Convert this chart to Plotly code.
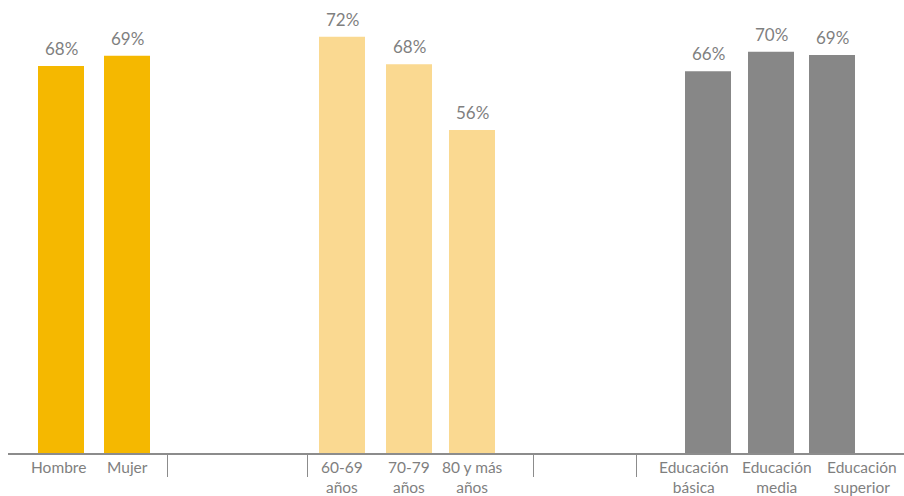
import plotly.graph_objects as go

# Data
categories = ["Hombre", "Mujer", "60-69<br>años", "70-79<br>años", "80 y más<br>años",
              "Educación<br>básica", "Educación<br>media", "Educación<br>superior"]
values = [67.2, 69.0, 72.3, 67.5, 56.1, 66.3, 69.7, 69.1]
value_labels = ["68%", "69%", "72%", "68%", "56%", "66%", "70%", "69%"]
groups = ["sexo", "sexo", "edad", "edad", "edad", "educ", "educ", "educ"]

# Layout (horizontal positions in axis units)
positions = [61, 127, 342, 409, 472, 708, 771, 832]
label_positions = [58, 127, 342, 409, 472, 694, 777, 862]
separators = [167, 307, 533, 636]
group_colors = {"sexo": "#F5B800", "edad": "#FAD991", "educ": "#878787"}
text_color = "#7F7F7F"
font_family = "Lato"

fig = go.Figure()
fig.add_trace(go.Bar(
    x=positions, y=values, width=46,
    marker=dict(color=[group_colors[g] for g in groups], line=dict(width=0)),
    hoverinfo="skip",
))

annotations = []
for x, v, t in zip(positions, values, value_labels):
    annotations.append(dict(x=x, y=v, xref="x", yref="y", text=t,
                            showarrow=False, yanchor="bottom", yshift=5,
                            font=dict(size=17, color=text_color, family=font_family)))
for x, c in zip(label_positions, categories):
    annotations.append(dict(x=x, y=0, xref="x", yref="paper", text=c,
                            showarrow=False, yanchor="top", yshift=-3,
                            font=dict(size=15.5, color=text_color, family=font_family)))

fig.update_layout(
    width=904, height=496,
    margin=dict(l=8, r=0, t=20, b=43),
    paper_bgcolor="white", plot_bgcolor="white",
    showlegend=False,
    annotations=annotations,
    xaxis=dict(range=[8, 904], showgrid=False, zeroline=False,
               showline=True, linecolor="#8C8C8C", linewidth=1.5,
               tickmode="array", tickvals=separators, ticks="outside",
               ticklen=22, tickwidth=1.2, tickcolor="#8C8C8C",
               showticklabels=False),
    yaxis=dict(range=[0, 75.2], visible=False, showgrid=False, zeroline=False),
    font=dict(family=font_family),
)

fig.write_html("out.html")
